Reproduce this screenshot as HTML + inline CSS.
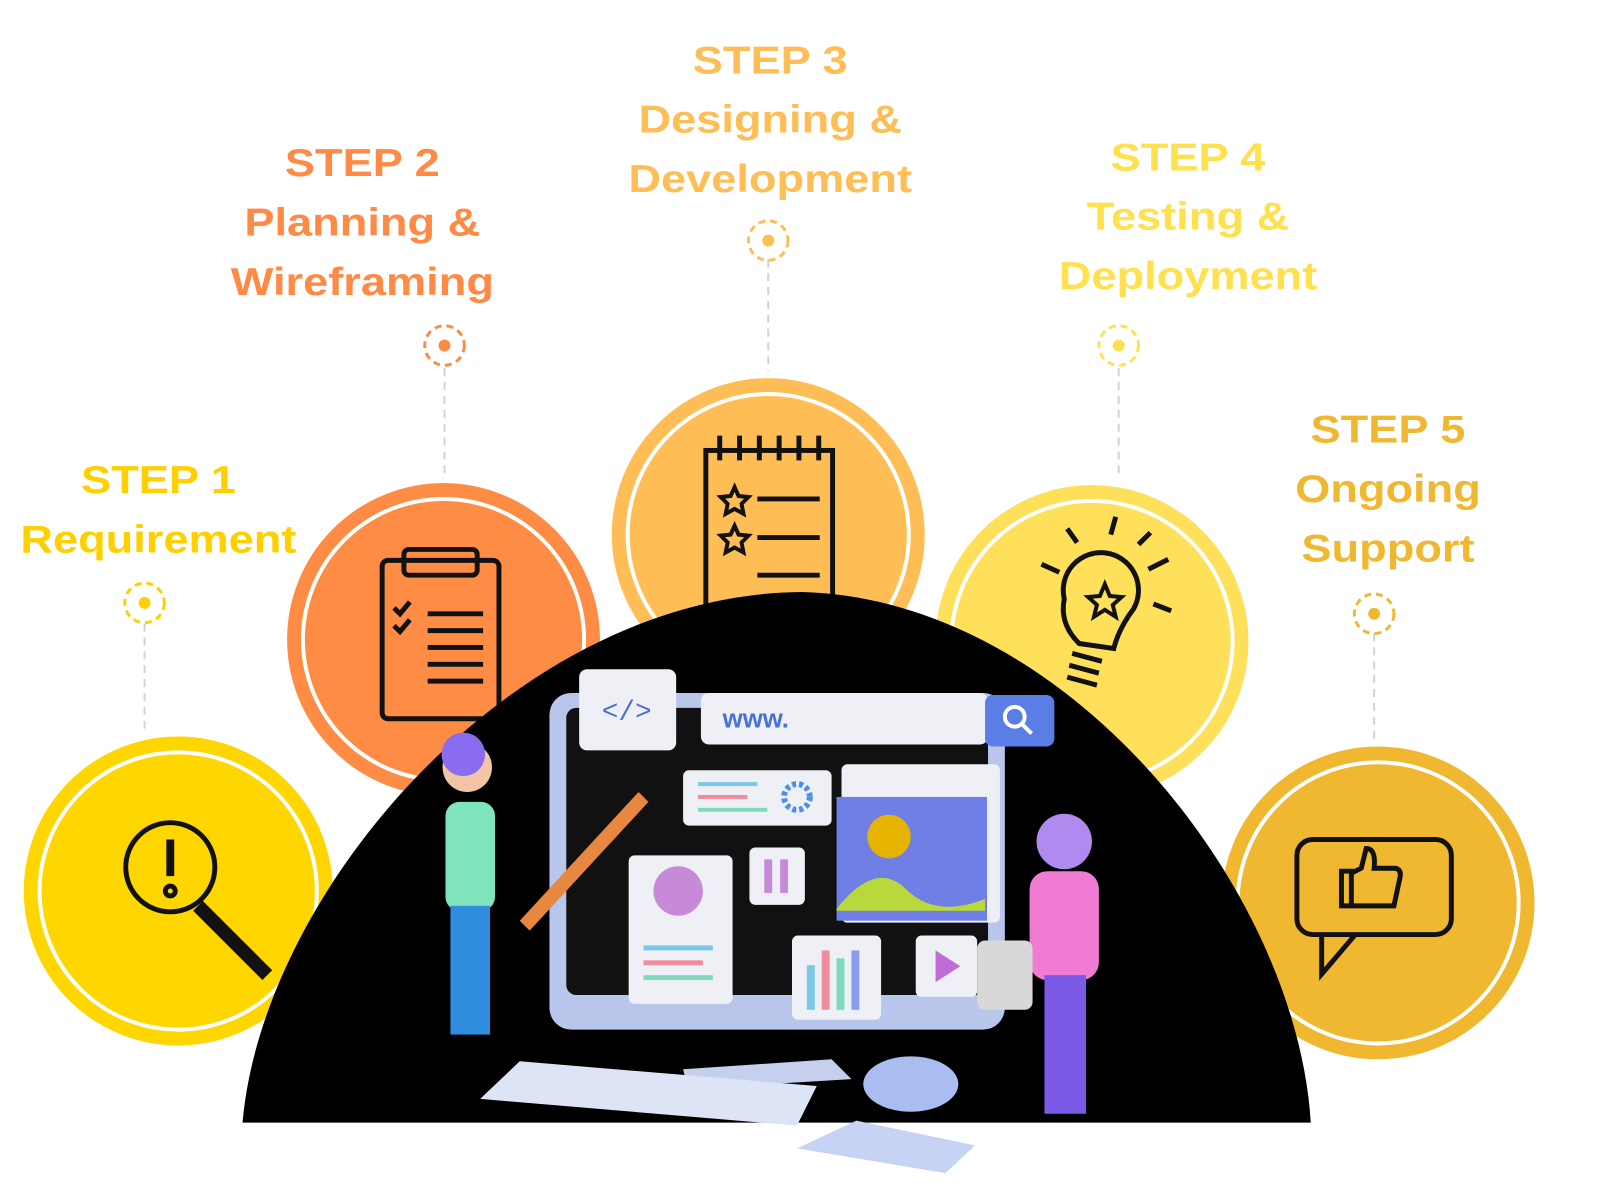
<!DOCTYPE html>
<html><head><meta charset="utf-8"><style>
body{margin:0;width:1600px;height:1200px;background:#fff;overflow:hidden;font-family:"Liberation Sans",sans-serif}
#w{position:absolute;left:0;top:0;width:1600px;height:1200px;transform:scale(0.99);transform-origin:0 0}
.t{position:absolute;text-align:center;font-weight:bold;font-size:39px;line-height:60px;white-space:nowrap;transform:scaleX(1.17);transform-origin:50% 0}
</style></head><body><div id="w">
<div class="t" style="left:0;width:320px;top:456px;color:#FFD000">STEP 1<br>Requirement</div>
<div class="t" style="left:216px;width:300px;top:136px;color:#FF8A45">STEP 2<br>Planning &amp;<br>Wireframing</div>
<div class="t" style="left:618px;width:320px;top:32px;color:#FFBE55">STEP 3<br>Designing &amp;<br>Development</div>
<div class="t" style="left:1050px;width:300px;top:130px;color:#FFE04D">STEP 4<br>Testing &amp;<br>Deployment</div>
<div class="t" style="left:1252px;width:300px;top:405px;color:#F0B830">STEP 5<br>Ongoing<br>Support</div>
<svg width="1600" height="1200" style="position:absolute;left:0;top:0">
<g stroke-dasharray="8 6" stroke-width="2" stroke="#ccd3dc">
<line x1="146" y1="630" x2="146" y2="740"/><line x1="449" y1="372" x2="449" y2="480"/>
<line x1="776" y1="262" x2="776" y2="375"/><line x1="1130" y1="372" x2="1130" y2="480"/>
<line x1="1388" y1="640" x2="1388" y2="750"/></g>
<g fill="none" stroke-width="3" stroke-dasharray="7 5">
<circle cx="146" cy="609" r="20" stroke="#FFD000"/><circle cx="449" cy="349" r="20" stroke="#FF8A45"/>
<circle cx="776" cy="243" r="20" stroke="#FFBE55"/><circle cx="1130" cy="349" r="20" stroke="#FFE04D"/>
<circle cx="1388" cy="620" r="20" stroke="#F0B830"/></g>
<circle cx="146" cy="609" r="6" fill="#FFD000"/><circle cx="449" cy="349" r="6" fill="#FF8A45"/>
<circle cx="776" cy="243" r="6" fill="#FFBE55"/><circle cx="1130" cy="349" r="6" fill="#FFE04D"/><circle cx="1388" cy="620" r="6" fill="#F0B830"/>
<g stroke="#fff" stroke-width="4">
<circle cx="180" cy="900" r="158" fill="#FFD600"/><circle cx="180" cy="900" r="140" fill="#FFD600"/>
<circle cx="448" cy="646" r="160" fill="#FF8C45"/><circle cx="448" cy="646" r="142" fill="#FF8C45"/>
<circle cx="776" cy="540" r="160" fill="#FFBE55"/><circle cx="776" cy="540" r="142" fill="#FFBE55"/>
<circle cx="1103" cy="648" r="160" fill="#FFE05A"/><circle cx="1103" cy="648" r="142" fill="#FFE05A"/>
<circle cx="1392" cy="912" r="160" fill="#F0B830"/><circle cx="1392" cy="912" r="142" fill="#F0B830"/>
</g>
<g fill="none" stroke="#111" stroke-width="5">
<circle cx="172" cy="876" r="45"/><line x1="200" y1="915" x2="270" y2="985" stroke-width="14"/>
<line x1="172" y1="848" x2="172" y2="885" stroke-width="8"/><circle cx="172" cy="900" r="5"/>
<rect x="386" y="566" width="118" height="160" rx="6"/><rect x="408" y="555" width="74" height="26" rx="5"/>
<path d="M398 614l6 6 10-12M398 632l6 6 10-12"/>
<line x1="432" y1="620" x2="488" y2="620"/><line x1="432" y1="637" x2="488" y2="637"/><line x1="432" y1="654" x2="488" y2="654"/><line x1="432" y1="671" x2="488" y2="671"/><line x1="432" y1="688" x2="488" y2="688"/>
<rect x="713" y="455" width="128" height="160"/><path d="M727 440v25M747 440v25M767 440v25M787 440v25M807 440v25M827 440v25"/>
<line x1="765" y1="504" x2="828" y2="504"/><line x1="765" y1="543" x2="828" y2="543"/><line x1="765" y1="581" x2="828" y2="581"/>
<path d="M742 492l4 9 10 1-7 7 2 10-9-5-9 5 2-10-7-7 10-1zM742 531l4 9 10 1-7 7 2 10-9-5-9 5 2-10-7-7 10-1z" stroke-width="4"/>
<path d="M1090 650q-20-20-15-45a38 38 0 1 1 70 10q-15 20-20 40z"/><path d="M1083 660l30 8M1080 672l30 8M1078 684l30 8"/>
<path d="M1116 590l5 12 12 1-9 8 3 12-11-7-11 7 3-12-9-8 12-1z" stroke-width="4"/>
<path d="M1160 575l20-10M1150 550l12-12M1122 540l5-18M1070 578l-18-8M1088 548l-10-14M1165 610l18 7"/>
<rect x="1310" y="848" width="156" height="96" rx="16"/><path d="M1335 944v40l34-40"/>
<path d="M1355 880h10v35h-10zM1365 882l10-5 5-20q10 0 8 20h22q6 2 4 10l-6 28h-43"/>
</g>
<path d="M245 1134C265 900 520 600 810 598C1080 605 1310 900 1324 1134Z" fill="#000"/>
<rect x="555" y="700" width="460" height="340" rx="22" fill="#b9c6ec"/>
<rect x="572" y="715" width="426" height="290" rx="10" fill="#111"/>
<rect x="585" y="676" width="98" height="82" rx="8" fill="#eef0f5"/>
<text x="633" y="727" text-anchor="middle" font-size="28" fill="#4a6fd8" font-family="Liberation Mono">&lt;/&gt;</text>
<rect x="708" y="700" width="290" height="52" rx="8" fill="#eef0f5"/><rect x="995" y="702" width="70" height="52" rx="8" fill="#5a7ee6"/>
<circle cx="1025" cy="724" r="10" fill="none" stroke="#fff" stroke-width="4"/><line x1="1032" y1="731" x2="1042" y2="741" stroke="#fff" stroke-width="4"/>
<text x="730" y="735" font-size="26" font-weight="bold" fill="#4a6fd8">www.</text>
<rect x="690" y="778" width="150" height="56" rx="6" fill="#eef0f5"/>
<rect x="705" y="790" width="60" height="4" fill="#7cc6e6"/><rect x="705" y="803" width="50" height="4" fill="#f08c9e"/><rect x="705" y="816" width="70" height="4" fill="#7fd8c0"/>
<circle cx="805" cy="805" r="13" fill="none" stroke="#4a8ef0" stroke-width="6" stroke-dasharray="4 3"/>
<rect x="850" y="772" width="160" height="160" rx="6" fill="#eef0f5"/><rect x="845" y="805" width="152" height="125" fill="#6f7fe6"/>
<circle cx="898" cy="845" r="22" fill="#e6b300"/><path d="M845 918q40-50 70-20t80 10v12h-150z" fill="#b8d83c"/>
<rect x="635" y="864" width="105" height="150" rx="6" fill="#eef0f5"/><circle cx="685" cy="900" r="25" fill="#c78ad9"/>
<rect x="650" y="955" width="70" height="5" fill="#7cc6e6"/><rect x="650" y="970" width="60" height="5" fill="#f08c9e"/><rect x="650" y="985" width="70" height="5" fill="#7fd8c0"/>
<rect x="757" y="856" width="56" height="58" rx="6" fill="#eef0f5"/><rect x="772" y="868" width="8" height="34" fill="#c78ad9"/><rect x="788" y="868" width="8" height="34" fill="#c78ad9"/>
<rect x="800" y="945" width="90" height="85" rx="6" fill="#eef0f5"/>
<rect x="815" y="975" width="8" height="45" fill="#7cc6e6"/><rect x="830" y="960" width="8" height="60" fill="#f08c9e"/><rect x="845" y="968" width="8" height="52" fill="#7fd8c0"/><rect x="860" y="960" width="8" height="60" fill="#8a9cf0"/>
<rect x="925" y="945" width="62" height="62" rx="6" fill="#eef0f5"/><path d="M945 960l25 16-25 16z" fill="#c16bd8"/>
<path d="M690 1080l150-10 20 20-165 10z" fill="#c5d0ee"/>
<path d="M485 1110l40-38 300 25-20 40z" fill="#dde4f6"/>
<ellipse cx="920" cy="1095" rx="48" ry="28" fill="#a9bdf0"/>
<path d="M805 1160l60-28 120 25-30 28z" fill="#c7d3f5"/>
<path d="M525 930l120-130 10 10-120 130z" fill="#e8873f"/>
<rect x="450" y="810" width="50" height="110" rx="14" fill="#7fe3bd"/><circle cx="472" cy="775" r="25" fill="#f1c5a5"/><circle cx="468" cy="762" r="22" fill="#8a6cf0"/>
<rect x="455" y="915" width="40" height="130" fill="#2f8de0"/>
<rect x="1040" y="880" width="70" height="110" rx="18" fill="#f07bd2"/><circle cx="1075" cy="850" r="28" fill="#b08aef"/>
<rect x="1055" y="985" width="42" height="140" fill="#7a5ae6"/>
<rect x="987" y="950" width="56" height="70" rx="8" fill="#d8d8d8"/>
</svg>
</div></body></html>
